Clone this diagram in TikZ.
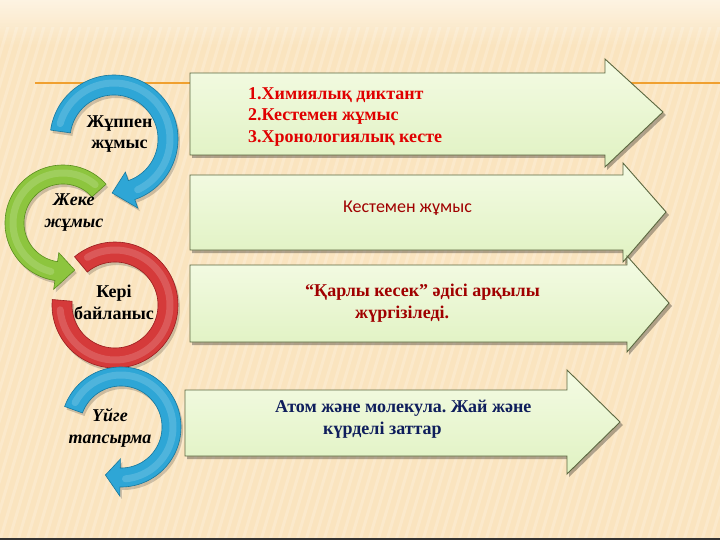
\documentclass[tikz,border=0pt]{standalone}
\usepackage{fontspec}
\setmainfont{Liberation Serif}
\newfontfamily\calib{Carlito}
\usetikzlibrary{calc}
\definecolor{bgbase}{HTML}{FAE4BF}
\definecolor{bgtop}{HTML}{FDF3E2}
\definecolor{orangeline}{HTML}{F0A030}
\definecolor{boxtop}{HTML}{F4FBE4}
\definecolor{boxbot}{HTML}{E0F2C2}
\definecolor{boxedge}{HTML}{5C6840}
\definecolor{ringblue}{HTML}{2EA6D6}
\definecolor{ringblueD}{HTML}{17789E}
\definecolor{ringgreen}{HTML}{8DC53E}
\definecolor{ringgreenD}{HTML}{5A8E1E}
\definecolor{ringred}{HTML}{D53A3A}
\definecolor{ringredD}{HTML}{9A1E1E}
\definecolor{txtred}{HTML}{E00000}
\definecolor{txtdred}{HTML}{A00000}
\definecolor{txtnavy}{HTML}{0F1E5C}
\newcommand{\ringbodypath}[6]{%
 plot[domain=#5:#6,samples=90] ({#1+#4*cos(\x)},{#2+#4*sin(\x)})
 -- plot[domain=#6:#5,samples=90] ({#1+#3*cos(\x)},{#2+#3*sin(\x)}) -- cycle}
\newcommand{\ringarrowpath}[8]{%
 plot[domain=#5:#6,samples=90] ({#1+#4*cos(\x)},{#2+#4*sin(\x)})
 -- ({#1+(#4+#8)*cos(#6)},{#2+(#4+#8)*sin(#6)})
 -- ({#1+(#3+#4)/2*cos(#7)},{#2+(#3+#4)/2*sin(#7)})
 -- ({#1+(#3-#8)*cos(#6)},{#2+(#3-#8)*sin(#6)})
 -- plot[domain=#6:#5,samples=90] ({#1+#3*cos(\x)},{#2+#3*sin(\x)}) -- cycle}
\newcommand{\ringhl}[5]{%
 plot[domain=#4:#5,samples=90] ({#1+#3*cos(\x)},{#2+#3*sin(\x)})}
\tikzset{
 arrowbox/.style={draw=boxedge, line width=0.9pt, top color=boxtop, bottom color=boxbot},
 arrowshadow/.style={fill=black, opacity=0.3},
 ringshadow/.style={fill=black, opacity=0.18},
 ringlbl/.style={font=\bfseries\fontsize{18}{21.5}\selectfont, align=center, text=black},
 ringlbli/.style={font=\bfseries\itshape\fontsize{18}{21.5}\selectfont, align=center, text=black},
 boxtxt/.style={font=\bfseries\fontsize{18}{21.5}\selectfont, align=left},
 hl/.style={line width=7pt, opacity=0.16, white, line cap=round}
}
\begin{document}
\frenchspacing
\begin{tikzpicture}[x=1pt,y=-1pt]
\useasboundingbox (0,0) rectangle (720,540);
% background
\fill[bgbase] (0,0) rectangle (720,540);
\shade[top color=bgtop, bottom color=bgbase] (0,0) rectangle (720,45);
\begin{scope}
\clip (0,28) rectangle (720,540);
\foreach \i in {-180,-171,...,720} {
  \draw[white, opacity=0.2, line width=3pt] (\i,540) -- (\i+160,0);
}
\end{scope}
\fill[black!80] (0,537.5) rectangle (720,540);
% orange rule
\draw[orangeline, line width=1.3pt] (35,83) -- (720,83);

% ===== arrows (right side) =====
% arrow 1
\fill[arrowshadow] (192,76) -- (607,76) -- (607,62) -- (666,115) -- (607,170) -- (607,158) -- (192,158) -- cycle;
\path[arrowbox] (190,73) -- (605,73) -- (605,59) -- (663,112) -- (605,167) -- (605,155) -- (190,155) -- cycle;
% arrow 2
\fill[arrowshadow] (192,178) -- (625,178) -- (625,166) -- (669,215) -- (625,265) -- (625,253) -- (192,253) -- cycle;
\path[arrowbox] (190,175) -- (623,175) -- (623,163) -- (666,212) -- (623,262) -- (623,250) -- (190,250) -- cycle;
% arrow 3
\fill[arrowshadow] (192,268) -- (629,268) -- (629,259) -- (672,306) -- (629,355) -- (629,345) -- (192,345) -- cycle;
\path[arrowbox] (190,265) -- (627,265) -- (627,256) -- (669,303) -- (627,352) -- (627,342) -- (190,342) -- cycle;
% arrow 4
\fill[arrowshadow] (187,393) -- (569,393) -- (569,373) -- (623,425) -- (569,477) -- (569,459) -- (187,459) -- cycle;
\path[arrowbox] (185,390) -- (567,390) -- (567,370) -- (620,422) -- (567,474) -- (567,456) -- (185,456) -- cycle;

% ===== ring arrows (left side) =====
% red (behind green head)
\fill[ringshadow, shift={(2,3)}] \ringbodypath{115}{305}{43}{63}{230}{545};
\path[fill=ringred, draw=ringredD, line width=0.6pt] \ringbodypath{115}{305}{43}{63}{230}{545};
\draw[hl] \ringhl{115}{305}{55}{240}{535};
% blue 1
\fill[ringshadow, shift={(2,3)}] \ringarrowpath{114}{139}{44}{64}{188}{431}{452}{9};
\path[fill=ringblue, draw=ringblueD, line width=0.6pt] \ringarrowpath{114}{139}{44}{64}{188}{431}{452}{9};
\draw[hl] \ringhl{114}{139}{56}{196}{425};
% green
\fill[ringshadow, shift={(2,3)}] \ringarrowpath{63}{223}{39}{58}{-42}{-262}{-284}{9};
\path[fill=ringgreen, draw=ringgreenD, line width=0.6pt] \ringarrowpath{63}{223}{39}{58}{-42}{-262}{-284}{9};
\draw[hl] \ringhl{63}{223}{50}{-50}{-256};
% blue 2
\fill[ringshadow, shift={(2,3)}] \ringarrowpath{121}{427}{41}{60}{200}{451}{468}{9};
\path[fill=ringblue, draw=ringblueD, line width=0.6pt] \ringarrowpath{121}{427}{41}{60}{200}{451}{468}{9};
\draw[hl] \ringhl{121}{427}{52}{208}{445};

% ===== ring labels =====
\node[ringlbl] (l1) at (119.5,134) {Жұппен\\жұмыс};
\node[ringlbli] (l2) at (74,212.5) {Жеке\\жұмыс};
\node[ringlbl] (l3) at (114,302.5) {Кері\\байланыс};
\node[ringlbli] (l4) at (110,428) {Үйге\\тапсырма};

% ===== box texts =====
\node[boxtxt, text=txtred, anchor=west, inner sep=0pt] (t1) at (248,116.5)
  {1.Химиялық диктант\\2.Кестемен жұмыс\\3.Хронологиялық кесте};
\node[font=\calib\fontsize{18}{20}\selectfont, text=txtdred] (t2) at (407.5,208) {Кестемен жұмыс};
\node[boxtxt, text=txtdred, anchor=west, inner sep=0pt] (t3) at (305,303)
  {“Қарлы кесек” әдісі арқылы\\\hspace*{50pt}жүргізіледі.};
\node[boxtxt, text=txtnavy, anchor=west, inner sep=0pt] (t4) at (275,419)
  {Атом және молекула. Жай және\\\hspace*{48pt}күрделі заттар};
\end{tikzpicture}
\end{document}
